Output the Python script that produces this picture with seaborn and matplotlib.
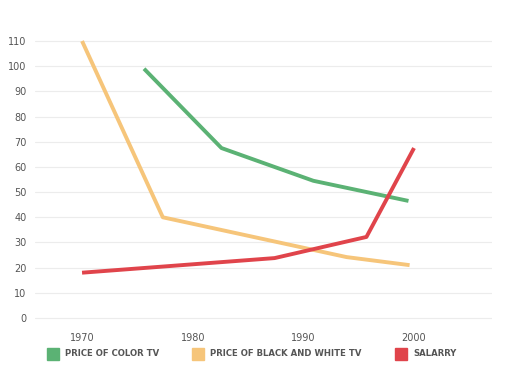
import pandas as pd
import seaborn as sns
import matplotlib.pyplot as plt
from matplotlib.lines import Line2D

series_names = ["PRICE OF COLOR TV", "PRICE OF BLACK AND WHITE TV", "SALARRY"]
colors = ["#5BB274", "#F6C57A", "#E0444B"]

color_tv_years = [1975.6, 1982.6, 1990.9, 1999.5]
color_tv_values = [99, 67.5, 54.5, 46.5]

bw_tv_years = [1970, 1977.3, 1993.9, 1999.6]
bw_tv_values = [110, 40, 24.2, 21]

salary_years = [1970, 1987.4, 1995.7, 2000]
salary_values = [18, 23.8, 32.2, 67.5]

x_ticks = [1970, 1980, 1990, 2000]
y_ticks = list(range(0, 111, 10))

rows = []
for name, xs, ys in zip(series_names,
                        [color_tv_years, bw_tv_years, salary_years],
                        [color_tv_values, bw_tv_values, salary_values]):
    for x, y in zip(xs, ys):
        rows.append({"year": x, "value": y, "series": name})
df = pd.DataFrame(rows)

sns.set_style("white")
plt.rcParams["font.family"] = "DejaVu Sans"

fig = plt.figure(figsize=(5.12, 3.89), dpi=100)
ax = fig.add_axes([0.0684, 0.176, 0.8926, 0.725])

sns.lineplot(data=df, x="year", y="value", hue="series", hue_order=series_names,
             palette=colors, sort=False, linewidth=2.8, legend=False, ax=ax,
             solid_capstyle="butt")

ax.set_xlim(1965.75, 2007.05)
ax.set_ylim(-1, 111)
ax.set_xticks(x_ticks)
ax.set_yticks(y_ticks)
ax.grid(axis="y", color="#ececec", linewidth=0.8)
ax.set_axisbelow(True)
ax.tick_params(axis="both", length=0, labelsize=7, labelcolor="#555555")
ax.tick_params(axis="x", pad=9)
ax.tick_params(axis="y", pad=6)
ax.set_xlabel("")
ax.set_ylabel("")
sns.despine(ax=ax, left=True, bottom=True)

handles = [Line2D([], [], marker="s", linestyle="", markersize=8,
                  markerfacecolor=c, markeredgecolor=c) for c in colors]
fig.legend(handles, series_names, loc="center", bbox_to_anchor=(0.489, 0.09),
           ncol=3, frameon=False, columnspacing=3.6, handletextpad=0.45,
           prop={"size": 6.1, "weight": "bold"}, labelcolor="#555555")

fig.savefig("out.png", dpi=100)
